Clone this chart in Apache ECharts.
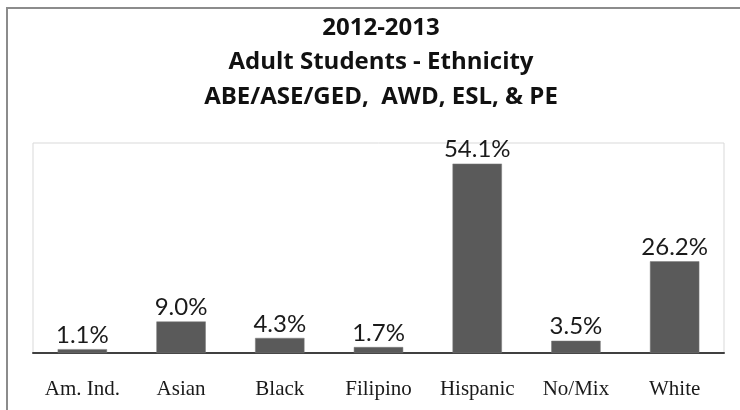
<!DOCTYPE html>
<html>
<head>
<meta charset="utf-8">
<script src="https://cdn.jsdelivr.net/npm/echarts@6/dist/echarts.min.js"></script>
<style>
  html, body { margin: 0; padding: 0; background: #fff; }
  #chart { width: 740px; height: 410px; }
</style>
</head>
<body>
<div id="chart"></div>
<script>
// Ethnicity breakdown of adult students, 2012-2013
const categories = ['Am. Ind.', 'Asian', 'Black', 'Filipino', 'Hispanic', 'No/Mix', 'White'];
const percentages = [1.1, 9.0, 4.3, 1.7, 54.1, 3.5, 26.2];
const titleLines = ['2012-2013', 'Adult Students - Ethnicity', 'ABE/ASE/GED,  AWD, ESL, & PE'];

const chart = echarts.init(document.getElementById('chart'), null, { renderer: 'canvas' });

const titleFont = 'bold 24px "Open Sans", Lato, sans-serif';
const titleY = [28, 62, 97];

chart.setOption({
  animation: false,
  backgroundColor: '#ffffff',
  graphic: [
    {
      type: 'rect',
      shape: { x: 7, y: 8, width: 800, height: 500 },
      style: { fill: 'none', stroke: '#8c8c8c', lineWidth: 2 },
      silent: true
    }
  ].concat(titleLines.map((t, i) => ({
    type: 'text',
    x: 381,
    y: titleY[i],
    style: {
      text: t,
      font: titleFont,
      fill: '#111',
      textAlign: 'center',
      textVerticalAlign: 'middle'
    }
  }))),
  grid: {
    left: 33,
    right: 16,
    top: 143,
    bottom: 57,
    show: true,
    borderColor: '#d9d9d9',
    borderWidth: 1,
    backgroundColor: 'transparent'
  },
  xAxis: {
    type: 'category',
    data: categories,
    axisLine: { show: true, lineStyle: { color: '#404040', width: 2 } },
    axisTick: { show: false },
    axisLabel: {
      margin: 26,
      fontFamily: '"Liberation Serif", "Times New Roman", serif',
      fontSize: 21,
      color: '#1a1a1a'
    }
  },
  yAxis: {
    type: 'value',
    min: 0,
    max: 60,
    show: false,
    splitLine: { show: false }
  },
  series: [{
    type: 'bar',
    data: percentages,
    barWidth: '50%',
    itemStyle: { color: '#5a5a5a', borderColor: '#7a7a7a', borderWidth: 0.5 },
    label: {
      show: true,
      position: 'top',
      distance: 2,
      formatter: p => p.value.toFixed(1) + '%',
      fontFamily: 'Lato, "Open Sans", sans-serif',
      fontSize: 24,
      color: '#1a1a1a'
    }
  }]
});
</script>
</body>
</html>
